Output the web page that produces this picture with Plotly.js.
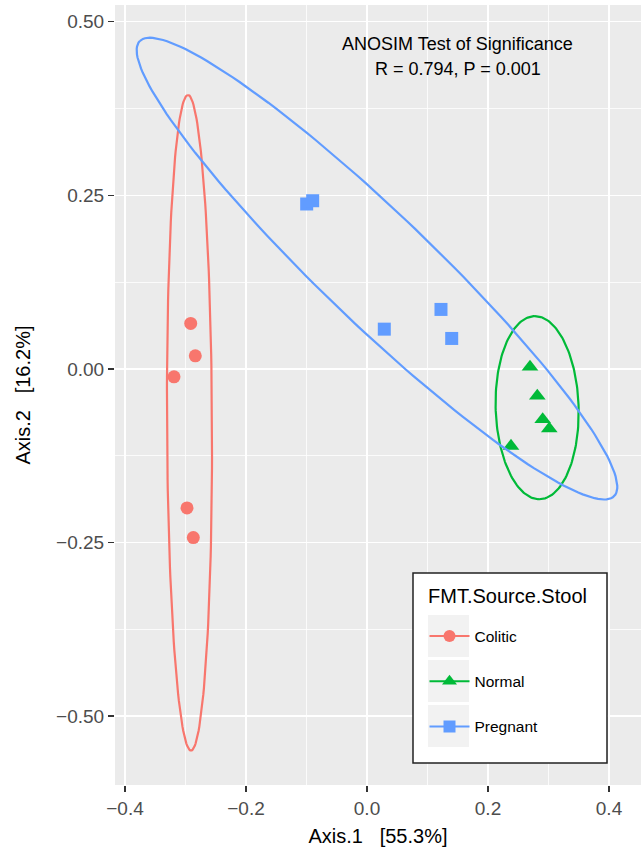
<!DOCTYPE html>
<html><head><meta charset="utf-8">
<script src="https://cdn.plot.ly/plotly-3.0.1.min.js"></script>
<style>html,body{margin:0;padding:0;background:#fff}</style>
</head><body><div id="chart" style="width:643px;height:848px"></div>
<script>
// ---- data ----
const groups = ['Colitic', 'Normal', 'Pregnant'];
const colitic_x = [-0.2914, -0.2838, -0.3190, -0.2975, -0.2871];
const colitic_y = [0.0656, 0.0189, -0.0114, -0.2001, -0.2428];
const normal_x = [0.2694, 0.2815, 0.2904, 0.3013, 0.2380];
const normal_y = [0.0029, -0.0389, -0.0726, -0.0860, -0.1110];
const pregnant_x = [-0.0997, -0.0898, 0.0286, 0.1223, 0.1400];
const pregnant_y = [0.2375, 0.2422, 0.0573, 0.0857, 0.0439];
// 95% ellipses: centre x, centre y, semi-axis A (dx, dy), conjugate semi-axis B (dx, dy)
const colitic_ellipse = [-0.2934, -0.0774, -0.0025, 0.4719, 0.0372, 0.0001];
const normal_ellipse = [0.2812, -0.0558, -0.0036, 0.1318, 0.0686, 0.0];
const pregnant_ellipse = [0.0165, 0.1445, -0.3922, 0.3275, 0.0630, 0.0572];
const xTickVals = [-0.4, -0.2, 0, 0.2, 0.4];
const xTickText = ['\u22120.4', '\u22120.2', '0.0', '0.2', '0.4'];
const yTickVals = [-0.5, -0.25, 0, 0.25, 0.5];
const yTickText = ['\u22120.50', '\u22120.25', '0.00', '0.25', '0.50'];
const xTitle = 'Axis.1\u00a0\u00a0\u00a0[55.3%]';
const yTitle = 'Axis.2\u00a0\u00a0\u00a0[16.2%]';
const statLine1 = 'ANOSIM Test of Significance';
const statLine2 = 'R = 0.794, P = 0.001';
const legendTitle = 'FMT.Source.Stool';

// ---- styling ----
const FONT = 'Liberation Sans, Arial, Helvetica, sans-serif';
const colors = ['#F8766D', '#00BA38', '#619CFF'];
const symbols = ['circle', 'triangle-up', 'square'];
const sizes = [13, 14.5, 13];
const pts = [[colitic_x, colitic_y], [normal_x, normal_y], [pregnant_x, pregnant_y]];
const ells = [colitic_ellipse, normal_ellipse, pregnant_ellipse];

function ellipsePath(p) {
  const xs = [], ys = [];
  const n = 180;
  for (let i = 0; i <= n; i++) {
    const t = 2 * Math.PI * i / n;
    xs.push(p[0] + p[2] * Math.cos(t) + p[4] * Math.sin(t));
    ys.push(p[1] + p[3] * Math.cos(t) + p[5] * Math.sin(t));
  }
  return [xs, ys];
}

const traces = [];
groups.forEach((g, i) => {
  traces.push({
    type: 'scatter', mode: 'markers', name: g, showlegend: false,
    x: pts[i][0], y: pts[i][1],
    marker: {symbol: symbols[i], size: sizes[i], color: colors[i], line: {width: 0}},
    hoverinfo: 'x+y+name'
  });
});
groups.forEach((g, i) => {
  const e = ellipsePath(ells[i]);
  traces.push({
    type: 'scatter', mode: 'lines', name: g, showlegend: false,
    x: e[0], y: e[1], line: {color: colors[i], width: 2.2}, hoverinfo: 'skip'
  });
});
// legend entries (line + marker key like ggplot)
groups.forEach((g, i) => {
  traces.push({
    type: 'scatter', mode: 'lines+markers', name: g, legendgroup: g,
    x: [null], y: [null], showlegend: true,
    line: {color: colors[i], width: 2},
    marker: {symbol: symbols[i], size: i === 1 ? 13 : 12, color: colors[i]}
  });
});

// paper coordinate helpers (plot area 115..641 x 5..785 px)
const PX = v => (v - 115) / 526;
const PY = v => (785 - v) / 780;

const shapes = [
  {type: 'rect', xref: 'paper', yref: 'paper', layer: 'above',
   x0: PX(413), x1: PX(607), y0: PY(763), y1: PY(573),
   fillcolor: '#FFFFFF', line: {color: '#222222', width: 1.5}}
];
[[615, 657], [660, 702], [705, 747]].forEach(r => {
  shapes.push({type: 'rect', xref: 'paper', yref: 'paper', layer: 'above',
    x0: PX(428), x1: PX(469), y0: PY(r[1]), y1: PY(r[0]),
    fillcolor: '#F2F2F2', line: {width: 0}});
});

const layout = {
  width: 643, height: 848,
  margin: {l: 115, r: 2, t: 5, b: 63, pad: 0},
  paper_bgcolor: '#FFFFFF', plot_bgcolor: '#EBEBEB',
  font: {family: FONT, color: '#000000'},
  showlegend: true,
  xaxis: {
    range: [-0.41653, 0.45289], autorange: false, zeroline: false, showline: false,
    tickvals: xTickVals, ticktext: xTickText,
    ticks: 'outside', ticklen: 6, tickwidth: 1.5, tickcolor: '#333333',
    tickfont: {family: FONT, size: 19, color: '#4D4D4D'},
    showgrid: true, gridcolor: '#FFFFFF', gridwidth: 1.6,
    minor: {dtick: 0.1, tick0: 0, showgrid: true, gridcolor: '#FFFFFF', gridwidth: 0.8, ticks: ''},
    title: {text: xTitle, font: {family: FONT, size: 20, color: '#000000'}, standoff: 11},
    automargin: false
  },
  yaxis: {
    range: [-0.599, 0.524], autorange: false, zeroline: false, showline: false,
    tickvals: yTickVals, ticktext: yTickText,
    ticks: 'outside', ticklen: 6, tickwidth: 1.5, tickcolor: '#333333',
    tickfont: {family: FONT, size: 19, color: '#4D4D4D'},
    showgrid: true, gridcolor: '#FFFFFF', gridwidth: 1.6,
    minor: {dtick: 0.125, tick0: 0, showgrid: true, gridcolor: '#FFFFFF', gridwidth: 0.8, ticks: ''},
    title: {text: yTitle, font: {family: FONT, size: 20, color: '#000000'}, standoff: 20},
    automargin: false
  },
  legend: {
    x: PX(424.5), y: PY(619.5), xanchor: 'left', yanchor: 'top',
    bgcolor: 'rgba(0,0,0,0)', borderwidth: 0,
    font: {family: FONT, size: 15.5, color: '#000000'},
    itemwidth: 40, tracegroupgap: 22, traceorder: 'grouped',
    itemclick: false, itemdoubleclick: false
  },
  shapes: shapes,
  annotations: [
    {xref: 'x', yref: 'y', x: 0.150, y: 0.468, text: statLine1, showarrow: false,
     xanchor: 'center', yanchor: 'middle', font: {family: FONT, size: 18, color: '#000000'}},
    {xref: 'x', yref: 'y', x: 0.150, y: 0.432, text: statLine2, showarrow: false,
     xanchor: 'center', yanchor: 'middle', font: {family: FONT, size: 18, color: '#000000'}},
    {xref: 'paper', yref: 'paper', x: PX(426), y: PY(595.5), text: legendTitle, showarrow: false,
     xanchor: 'left', yanchor: 'middle', font: {family: FONT, size: 20, color: '#000000'}}
  ]
};

Plotly.newPlot('chart', traces, layout, {displayModeBar: false, staticPlot: true});
</script>
</body></html>
